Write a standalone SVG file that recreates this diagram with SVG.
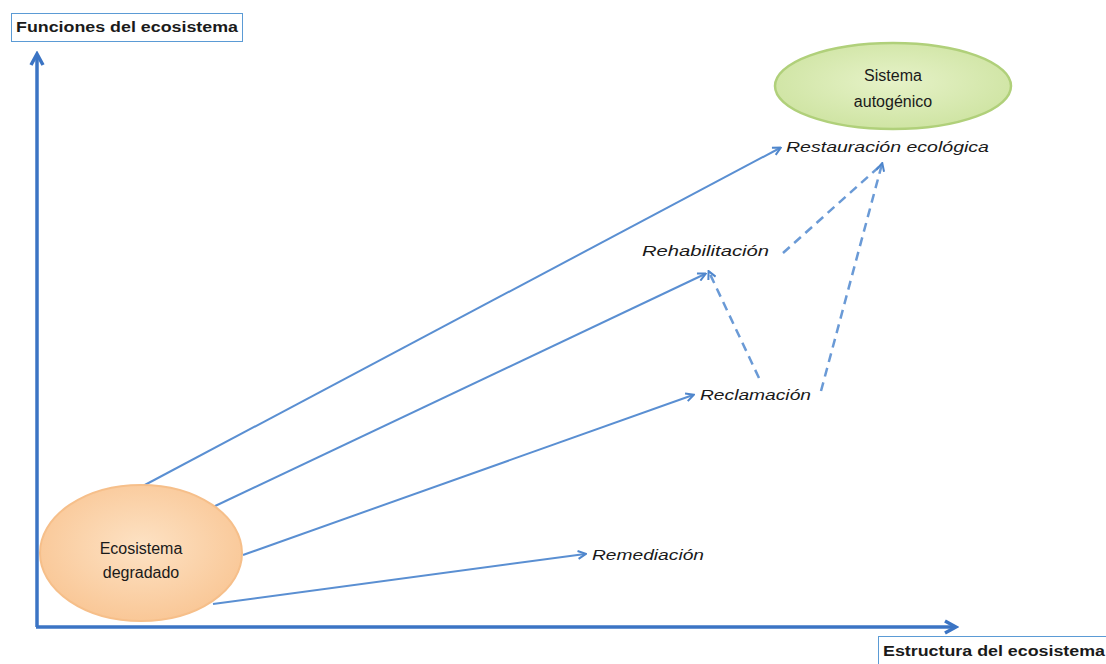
<svg xmlns="http://www.w3.org/2000/svg" width="1106" height="664" viewBox="0 0 1106 664">
<defs>
<marker id="ah" markerWidth="10" markerHeight="10" refX="8" refY="5" orient="auto" markerUnits="userSpaceOnUse">
<path d="M1,1 L9,5 L1,9" fill="none" stroke="#4f86cc" stroke-width="2"/>
</marker>
<marker id="axh" markerWidth="16" markerHeight="16" refX="12" refY="8" orient="auto" markerUnits="userSpaceOnUse">
<path d="M2,2 L13,8 L2,14" fill="none" stroke="#3b74c4" stroke-width="3.5"/>
</marker>
<radialGradient id="og" cx="50%" cy="45%" r="60%">
<stop offset="0" stop-color="#fde2c4"/>
<stop offset="1" stop-color="#f9c593"/>
</radialGradient>
<radialGradient id="gg" cx="50%" cy="45%" r="60%">
<stop offset="0" stop-color="#e6f2c8"/>
<stop offset="1" stop-color="#cde3a0"/>
</radialGradient>
</defs>
<style>
.ax{stroke:#3b74c4;stroke-width:3.5;fill:none}
.c{stroke:#5a8fd2;stroke-width:2;fill:none}
.d{stroke:#6a9ad6;stroke-width:2.5;fill:none;stroke-dasharray:9,6}
.b{font-family:"Liberation Sans",Arial,sans-serif;font-weight:bold;font-size:14px;fill:#1a1a1a}
.n{font-family:"Liberation Sans",Arial,sans-serif;font-size:16px;fill:#1a1a1a;text-anchor:middle}
.i{font-family:"Liberation Sans",Arial,sans-serif;font-style:italic;font-size:15px;fill:#1a1a1a}
.lb{fill:#fff;stroke:#5b9bd5;stroke-width:1}
</style>
<rect width="1106" height="664" fill="#fff"/>
<g id="axes">
<line class="ax" x1="37" y1="627" x2="37" y2="55" marker-end="url(#axh)"/>
<line class="ax" x1="36" y1="627" x2="955" y2="627" marker-end="url(#axh)"/>
</g>
<g id="label-y">
<rect class="lb" x="11.5" y="13.5" width="231" height="28"/>
<text class="b" x="16" y="32" textLength="222" lengthAdjust="spacingAndGlyphs">Funciones del ecosistema</text>
</g>
<g id="label-x">
<rect class="lb" x="878.5" y="636.5" width="230" height="30"/>
<text class="b" x="883" y="656" textLength="222" lengthAdjust="spacingAndGlyphs">Estructura del ecosistema</text>
</g>
<g id="connectors">
<line class="c" x1="141" y1="487" x2="780" y2="148" marker-end="url(#ah)"/>
<line class="c" x1="213" y1="507" x2="705" y2="274" marker-end="url(#ah)"/>
<line class="c" x1="243" y1="555" x2="693" y2="395" marker-end="url(#ah)"/>
<line class="c" x1="213" y1="604" x2="585" y2="554" marker-end="url(#ah)"/>
<line class="d" x1="759" y1="378" x2="709" y2="272" marker-end="url(#ah)"/>
<line class="d" x1="783" y1="253" x2="880" y2="166"/>
<line class="d" x1="821" y1="391" x2="882" y2="164" marker-end="url(#ah)"/>
</g>
<g id="ecosistema-degradado">
<ellipse cx="141" cy="553" rx="101" ry="68" fill="url(#og)" stroke="#f6bf8a" stroke-width="2"/>
<text class="n" x="141" y="554">Ecosistema</text>
<text class="n" x="141" y="578">degradado</text>
</g>
<g id="sistema-autogenico">
<ellipse cx="893" cy="86" rx="118" ry="43" fill="url(#gg)" stroke="#b0d07a" stroke-width="2.5"/>
<text class="n" x="893" y="81">Sistema</text>
<text class="n" x="893" y="107">autogénico</text>
</g>
<g id="restauracion"><text class="i" x="786" y="152" textLength="203" lengthAdjust="spacingAndGlyphs">Restauración ecológica</text></g>
<g id="rehabilitacion"><text class="i" x="642" y="256" textLength="127" lengthAdjust="spacingAndGlyphs">Rehabilitación</text></g>
<g id="reclamacion"><text class="i" x="700" y="400" textLength="111" lengthAdjust="spacingAndGlyphs">Reclamación</text></g>
<g id="remediacion"><text class="i" x="592" y="560" textLength="112" lengthAdjust="spacingAndGlyphs">Remediación</text></g>
</svg>
